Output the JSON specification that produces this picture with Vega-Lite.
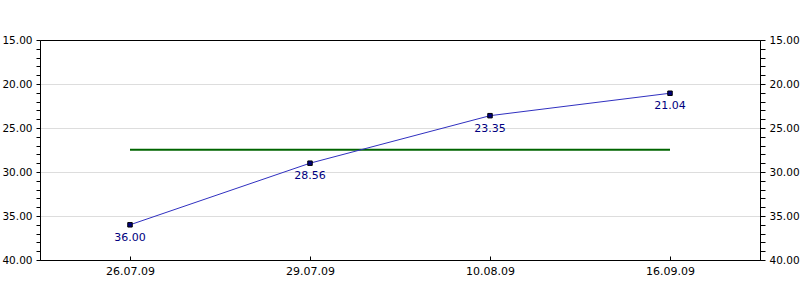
{
  "$schema": "https://vega.github.io/schema/vega-lite/v6.json",
  "width": 720,
  "height": 220,
  "autosize": {"type": "none"},
  "padding": {"left": 40, "top": 40, "right": 40, "bottom": 40},
  "background": "white",
  "config": {
    "view": {"stroke": "black", "strokeWidth": 1},
    "font": "DejaVu Sans",
    "axis": {"labelFont": "DejaVu Sans", "labelFontSize": 11, "labelColor": "black", "domainColor": "black", "tickColor": "black"}
  },
  "data": {
    "values": [
      {"date": "26.07.09", "value": 36.0, "label": "36.00", "avg": 27.47},
      {"date": "29.07.09", "value": 29.0, "label": "28.56", "avg": 27.47},
      {"date": "10.08.09", "value": 23.6, "label": "23.35", "avg": 27.47},
      {"date": "16.09.09", "value": 21.05, "label": "21.04", "avg": 27.47}
    ]
  },
  "encoding": {
    "x": {
      "field": "date", "type": "ordinal", "sort": null,
      "scale": {"type": "point", "padding": 0.5},
      "axis": {"title": null, "labelAngle": 0, "tickSize": -4, "labelPadding": 9, "grid": false, "domainColor": "black"}
    }
  },
  "layer": [
    {
      "mark": {"type": "line", "color": "#006400", "strokeWidth": 2},
      "encoding": {
        "y": {"field": "avg", "type": "quantitative", "scale": {"domain": [15, 40], "reverse": true, "nice": false, "zero": false}, "axis": null}
      }
    },
    {
      "mark": {"type": "line", "color": "#3030c0", "strokeWidth": 1},
      "encoding": {
        "y": {
          "field": "value", "type": "quantitative",
          "axis": {
            "orient": "left", "title": null,
            "values": [15,16,17,18,19,20,21,22,23,24,25,26,27,28,29,30,31,32,33,34,35,36,37,38,39,40],
            "labelExpr": "datum.value % 5 == 0 ? format(datum.value, '.2f') : ''",
            "labelOverlap": false, "labelBound": false, "labelFlush": false,
            "labelFontSize": 10.5,
            "tickSize": 4, "labelPadding": 4,
            "grid": true, "gridColor": "#dddddd",
            "gridOpacity": {"condition": {"test": "datum.value % 5 == 0 && datum.value > 15 && datum.value < 40", "value": 1}, "value": 0}
          }
        }
      }
    },
    {
      "mark": {"type": "square", "size": 20, "filled": true, "color": "#000080", "stroke": "black", "strokeWidth": 1, "opacity": 1},
      "encoding": {
        "y": {"field": "value", "type": "quantitative", "axis": null}
      }
    },
    {
      "mark": {"type": "text", "dy": 13, "color": "#000080", "fontSize": 11, "font": "DejaVu Sans", "baseline": "middle", "align": "center"},
      "encoding": {
        "y": {
          "field": "value", "type": "quantitative",
          "axis": {
            "orient": "right", "title": null,
            "values": [15,16,17,18,19,20,21,22,23,24,25,26,27,28,29,30,31,32,33,34,35,36,37,38,39,40],
            "labelExpr": "datum.value % 5 == 0 ? format(datum.value, '.2f') : ''",
            "labelOverlap": false, "labelBound": false, "labelFlush": false,
            "labelFontSize": 10.5,
            "tickSize": 5, "labelPadding": 4, "grid": false
          }
        },
        "text": {"field": "label", "type": "nominal"}
      }
    }
  ],
  "resolve": {"axis": {"y": "independent"}}
}
